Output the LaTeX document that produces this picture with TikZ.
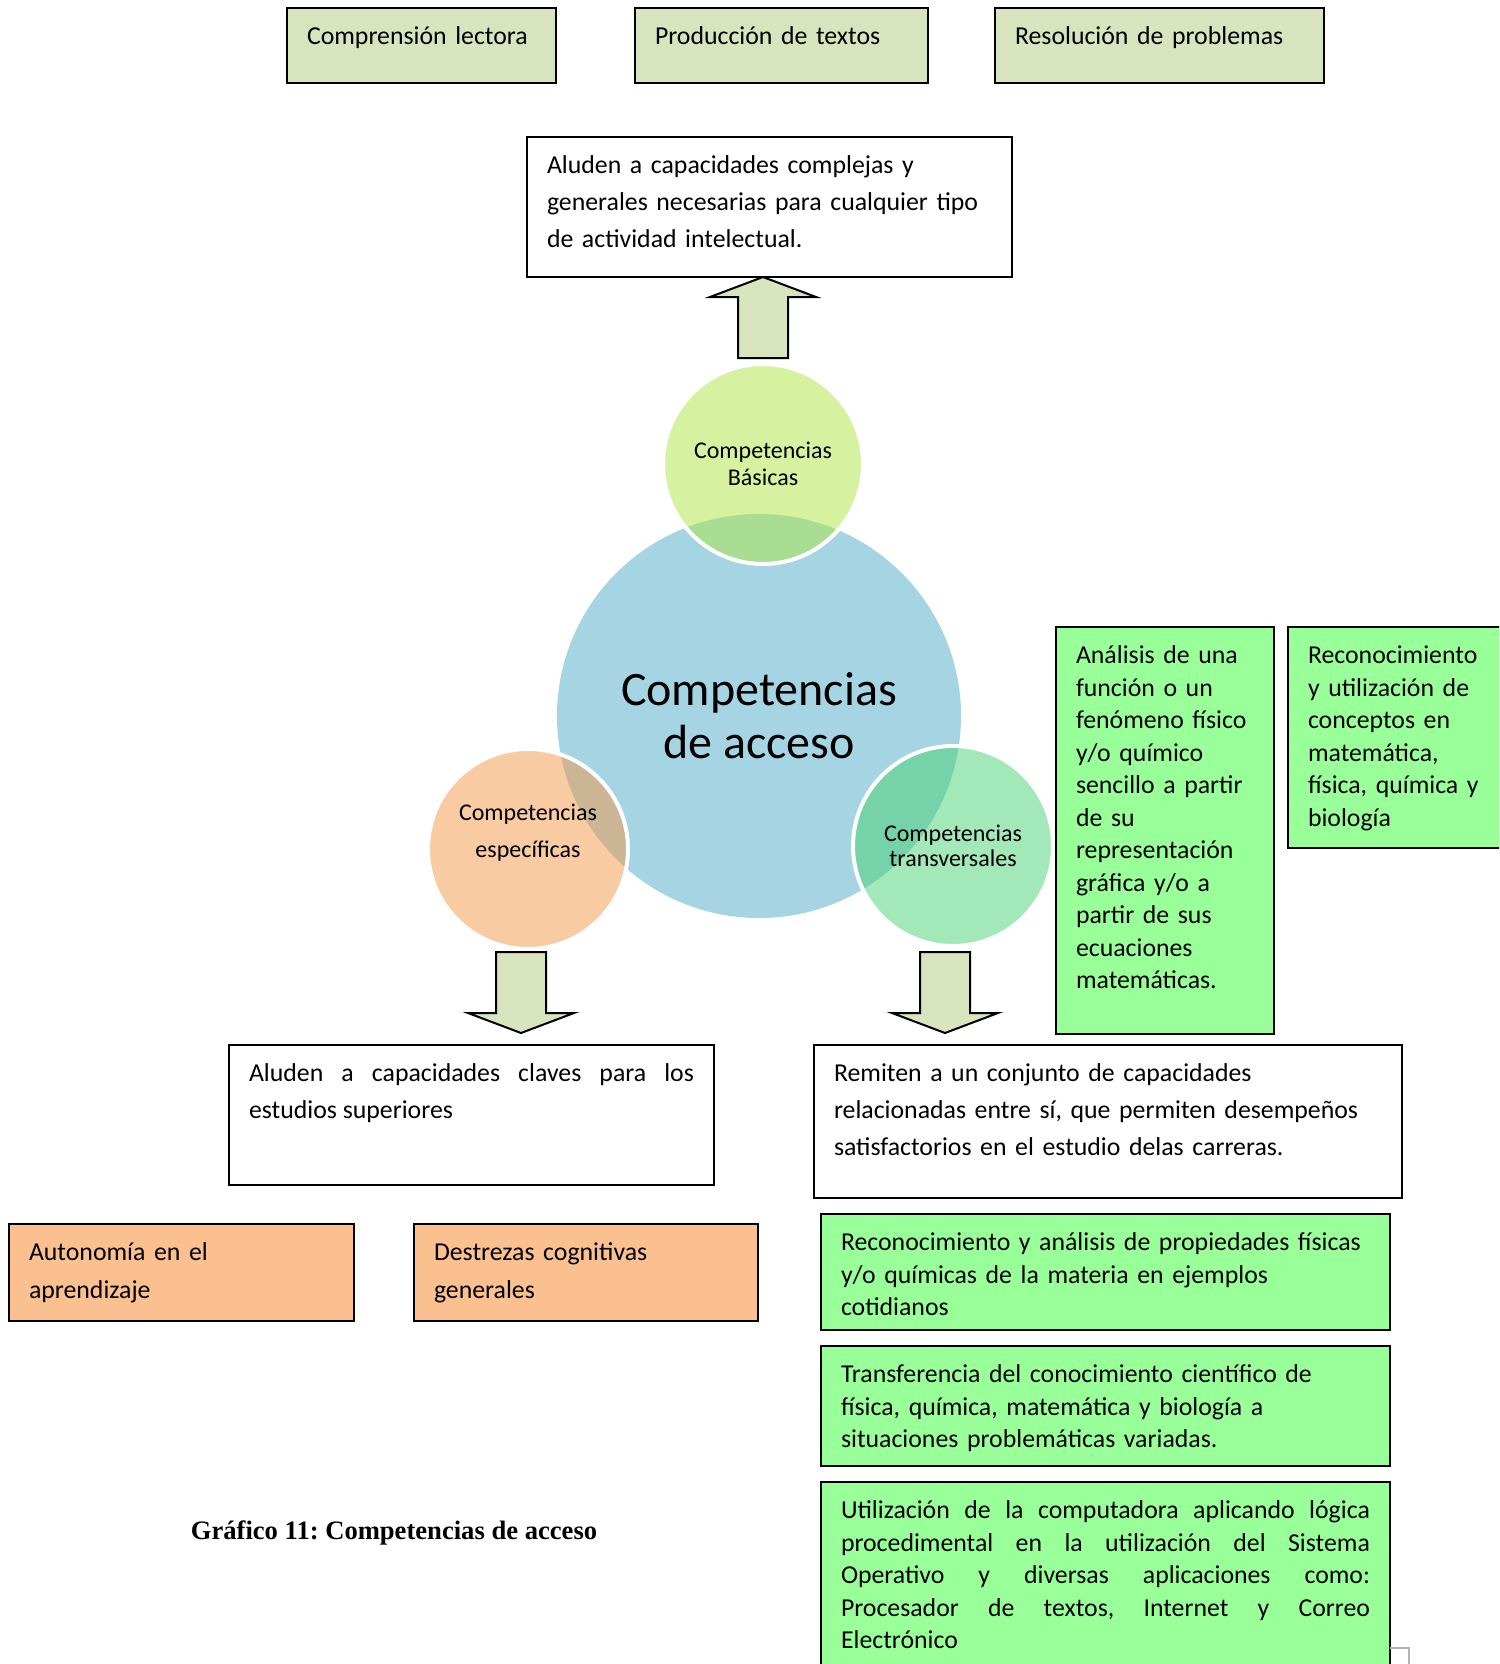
\documentclass[tikz,border=0pt]{standalone}
\usepackage{fontspec}
\setmainfont{Carlito}
\newfontfamily\captionfont{Liberation Serif}
\definecolor{olivo}{HTML}{D7E4BD}
\definecolor{verdeclaro}{HTML}{99FF99}
\definecolor{naranja}{HTML}{FAC090}
\definecolor{azul}{HTML}{A5D5E2}
\definecolor{lima}{RGB}{173,229,65}
\definecolor{durazno}{RGB}{241,151,71}
\definecolor{menta}{RGB}{71,209,113}
\hyphenpenalty=10000
\exhyphenpenalty=10000
\frenchspacing
\begin{document}
\begin{tikzpicture}[x=0.5pt, y=-0.5pt,
        caja/.style={rectangle, draw=black, line width=1pt, fill=white, anchor=north west, align=left,
            inner xsep=10pt, inner ysep=7pt, text height=11.3pt, font=\fontsize{12.9pt}{18.5pt}\selectfont},
        olivobox/.style={caja, fill=olivo},
        verdebox/.style={caja, fill=verdeclaro, font=\fontsize{12.9pt}{16.25pt}\selectfont},
        naranjabox/.style={caja, fill=naranja, font=\fontsize{12.9pt}{19pt}\selectfont},
        circulo/.style={circle, draw=white, line width=2pt, fill opacity=0.5, text opacity=1,
            minimum size=100pt, inner sep=0pt, align=center, font=\fontsize{12pt}{13.3pt}\selectfont},
        flecha/.pic={\draw[draw=black, line width=1pt, fill=olivo, line join=miter]
            (-25,0) -- (25,0) -- (25,61) -- (53,61) -- (0,81) -- (-53,61) -- (-25,61) -- cycle;}
    ]
    \useasboundingbox (0,0) rectangle (1499,1664);
    \clip (0,0) rectangle (1499,1664);

    \node[olivobox, text width=114.5pt, text depth=12.2pt] (comp) at (286,7) {Comprensión lectora};
    \node[olivobox, text width=126.5pt, text depth=12.2pt] (prod) at (634,7) {Producción de textos};
    \node[olivobox, text width=144.5pt, text depth=12.2pt] (reso) at (994,7) {Resolución de problemas};

    \node[caja, text width=222.5pt, text depth=44.7pt] (alubas) at (526,136) {Aluden a capacidades complejas y\\
        generales necesarias para cualquier tipo\\ de actividad intelectual.};

    \node[circle, fill=azul, minimum size=202pt, inner sep=0pt] (acc) at (759,716) {};
    \node[align=center, font=\fontsize{24pt}{26.5pt}\selectfont] (acctxt) at (759,716) {Competencias\\de acceso};
    \node[circulo, fill=lima] (bas) at (763,464) {Competencias\\Básicas};
    \node[circulo, fill=durazno] (esp) at (528,849) {};
    \node[align=center, font=\fontsize{12pt}{18.5pt}\selectfont] (esptxt) at (528,833) {Competencias\\específicas};
    \node[circulo, fill=menta, font=\fontsize{12pt}{12.7pt}\selectfont] (tra) at (953,846) {Competencias\\transversales};

    \pic[rotate=180] at (763,358) {flecha};
    \pic at (521,952) {flecha};
    \pic at (945,952) {flecha};

    \node[verdebox, text width=89pt, text depth=178.2pt] (anal) at (1055,626) {Análisis de una\\ función o un\\
        fenómeno físico\\ y/o químico\\ sencillo a partir\\ de su\\ representación\\ gráfica y/o a\\
        partir de sus\\ ecuaciones\\ matemáticas.};
    \node[verdebox, text width=100pt, text depth=85.2pt] (reco) at (1287,626) {Reconocimiento\\ y utilización de\\
        conceptos en\\ matemática,\\ física, química y\\ biología};

    \node[caja, text width=222.5pt, text depth=44.7pt, align=justify] (aluesp) at (228,1044) {Aluden a capacidades
        claves para los\linebreak estudios superiores};
    \node[caja, text width=274pt, text depth=51.2pt] (rem) at (813,1044) {Remiten a un conjunto de capacidades\\
        relacionadas entre sí, que permiten desempeños\\ satisfactorios en el estudio delas carreras.};

    \node[naranjabox, text width=152.5pt, text depth=23.2pt] (auto) at (8,1223) {Autonomía en el\\ aprendizaje};
    \node[naranjabox, text width=152pt, text depth=23.2pt] (dest) at (413,1223) {Destrezas cognitivas\\ generales};

    \node[verdebox, text width=264.5pt, text depth=32.7pt] (prop) at (820,1213) {Reconocimiento y análisis de propiedades
        físicas\\ y/o químicas de la materia en ejemplos\\ cotidianos};
    \node[verdebox, text width=264.5pt, text depth=34.7pt] (trans) at (820,1345) {Transferencia del conocimiento
        científico de\\ física, química, matemática y biología a\\ situaciones problemáticas variadas.};
    \node[verdebox, text width=264.5pt, text depth=78.7pt, align=justify] (compu) at (820,1481) {Utilización de la
        computadora aplicando lógica\linebreak procedimental en la utilización del Sistema\linebreak
        Operativo y diversas aplicaciones como:\linebreak Procesador de textos, Internet y Correo\linebreak
        Electrónico};

    \node[font=\captionfont\bfseries\fontsize{13.3pt}{16pt}\selectfont] (titulo) at (394,1533) {Gráfico 11:
        Competencias de acceso};

    \draw[gray!60, line width=1pt] (1390,1648) -- (1409,1648) -- (1409,1664);
\end{tikzpicture}
\end{document}
